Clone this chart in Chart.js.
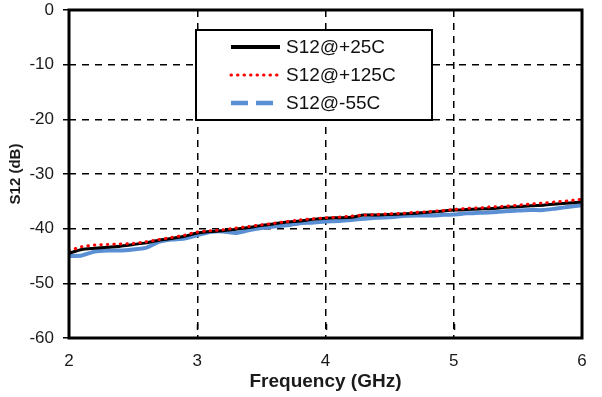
<!DOCTYPE html>
<html>
<head>
<meta charset="utf-8">
<script src="https://cdn.jsdelivr.net/npm/chart.js@4.4.1/dist/chart.umd.min.js"></script>
<style>
  html, body { margin: 0; padding: 0; background: #fff; }
  #wrap { width: 602px; height: 397px; }
</style>
</head>
<body>
<div id="wrap"><canvas id="graph"></canvas></div>
<script>
const freq = [2.0, 2.1, 2.2, 2.3, 2.4, 2.5, 2.6, 2.7, 2.8, 2.9,
  3.0, 3.1, 3.2, 3.3, 3.4, 3.5, 3.6, 3.7, 3.8, 3.9,
  4.0, 4.1, 4.2, 4.3, 4.4, 4.5, 4.6, 4.7, 4.8, 4.9,
  5.0, 5.1, 5.2, 5.3, 5.4, 5.5, 5.6, 5.7, 5.8, 5.9, 6.0];

const s12_25 = [-44.5, -43.8, -43.6, -43.4, -43.2, -42.9, -42.6, -42.1, -41.8, -41.4,
  -40.8, -40.5, -40.4, -40.1, -39.8, -39.4, -39.1, -38.8, -38.6, -38.3,
  -38.1, -38.0, -37.9, -37.5, -37.5, -37.4, -37.3, -37.2, -37.0, -36.8,
  -36.6, -36.5, -36.4, -36.3, -36.1, -36.0, -35.8, -35.7, -35.5, -35.3, -35.1];

const s12_125 = [-44.0, -43.3, -43.0, -42.9, -42.8, -42.7, -42.4, -42.0, -41.6, -41.2,
  -40.6, -40.4, -40.2, -39.9, -39.6, -39.3, -39.0, -38.7, -38.4, -38.2,
  -38.0, -37.9, -37.7, -37.5, -37.4, -37.3, -37.2, -37.0, -36.9, -36.7,
  -36.5, -36.3, -36.2, -36.0, -35.9, -35.7, -35.5, -35.3, -35.1, -34.9, -34.6];

const s12_m55 = [-45.0, -44.9, -44.2, -44.0, -44.0, -43.8, -43.5, -42.4, -42.0, -41.8,
  -41.2, -40.6, -40.5, -40.8, -40.3, -39.9, -39.6, -39.4, -39.0, -38.9,
  -38.7, -38.6, -38.4, -38.2, -38.0, -37.9, -37.7, -37.6, -37.6, -37.5,
  -37.4, -37.2, -37.1, -37.0, -36.8, -36.7, -36.6, -36.6, -36.3, -36.0, -35.7];

const labels = ["S12@+25C", "S12@+125C", "S12@-55C"];
const xTicks = [2, 3, 4, 5, 6];
const yTicks = [0, -10, -20, -30, -40, -50, -60];

const FONT = "'Liberation Sans', Arial, sans-serif";

function pts(ys) {
  return freq.map((f, i) => ({ x: f, y: ys[i] }));
}

// frame, inner x ticks and legend box
const extras = {
  id: "extras",
  afterDraw(chart) {
    const ctx = chart.ctx;
    const a = chart.chartArea;
    const xs = chart.scales.x;
    ctx.save();
    ctx.strokeStyle = "#000";
    ctx.setLineDash([]);
    ctx.lineWidth = 1.5;
    [3, 4, 5].forEach(v => {
      const px = Math.round(xs.getPixelForValue(v)) + 0.5;
      ctx.beginPath();
      ctx.moveTo(px, a.bottom - 14);
      ctx.lineTo(px, a.bottom - 8);
      ctx.stroke();
    });
    ctx.lineWidth = 3;
    ctx.strokeRect(a.left, a.top, a.right - a.left, a.bottom - a.top);

    // legend
    const bx = 196, by = 30, bw = 236, bh = 90;
    ctx.fillStyle = "#fff";
    ctx.fillRect(bx, by, bw, bh);
    ctx.lineWidth = 2;
    ctx.strokeRect(bx, by, bw, bh);
    ctx.font = "19px " + FONT;
    ctx.textBaseline = "middle";
    chart.data.datasets.forEach((ds, i) => {
      const yy = 47 + i * 28;
      ctx.strokeStyle = ds.borderColor;
      ctx.lineWidth = ds.legendWidth;
      ctx.lineCap = ds.borderCapStyle || "butt";
      ctx.setLineDash(ds.legendDash);
      ctx.beginPath();
      ctx.moveTo(231, yy);
      ctx.lineTo(280, yy);
      ctx.stroke();
      ctx.setLineDash([]);
      ctx.fillStyle = "#111";
      ctx.fillText(ds.label, 286, yy + 1);
    });
    ctx.restore();
  }
};

new Chart(document.getElementById("graph"), {
  type: "line",
  data: {
    datasets: [
      {
        label: labels[0],
        data: pts(s12_25),
        borderColor: "#000000",
        borderWidth: 3,
        legendWidth: 4,
        legendDash: [],
        order: 1
      },
      {
        label: labels[1],
        data: pts(s12_125),
        borderColor: "#ff0000",
        borderWidth: 3,
        borderDash: [0.5, 6],
        borderCapStyle: "round",
        legendWidth: 3,
        legendDash: [0.5, 6],
        order: 0
      },
      {
        label: labels[2],
        data: pts(s12_m55),
        borderColor: "#5a8fd4",
        borderWidth: 4,
        legendWidth: 4.5,
        legendDash: [17, 8],
        order: 2
      }
    ]
  },
  options: {
    responsive: true,
    maintainAspectRatio: false,
    animation: false,
    events: [],
    elements: { point: { radius: 0 }, line: { tension: 0.2 } },
    layout: { padding: { top: 10, right: 20, left: 0, bottom: 0 } },
    plugins: {
      legend: { display: false },
      tooltip: { enabled: false }
    },
    scales: {
      x: {
        type: "linear",
        min: 2,
        max: 6,
        afterBuildTicks(scale) { scale.ticks = xTicks.map(v => ({ value: v })); },
        afterFit(scale) {
          scale.height = 59;
          scale.paddingLeft = 0;
          scale.paddingRight = 0;
        },
        grid: {
          color: ctx => (ctx.tick && (ctx.tick.value === 2 || ctx.tick.value === 6)) ? "rgba(0,0,0,0)" : "#000",
          lineWidth: 1.5,
          drawTicks: false
        },
        border: { display: false, dash: [7, 6] },
        ticks: {
          padding: 13,
          color: "#1a1a1a",
          font: { family: FONT, size: 17 }
        },
        title: {
          display: true,
          text: "Frequency (GHz)",
          color: "#1a1a1a",
          font: { family: FONT, size: 19, weight: "bold" },
          padding: { top: 0, bottom: 4 }
        }
      },
      y: {
        min: -60,
        max: 0,
        afterBuildTicks(scale) { scale.ticks = yTicks.map(v => ({ value: v })); },
        afterFit(scale) {
          scale.width = 69;
          scale.paddingTop = 0;
          scale.paddingBottom = 0;
        },
        grid: {
          color: ctx => (ctx.tick && (ctx.tick.value === 0 || ctx.tick.value === -60)) ? "rgba(0,0,0,0)" : "#000",
          lineWidth: 1.5,
          drawTicks: true,
          tickLength: 6,
          tickColor: "#000",
          tickWidth: 1.5
        },
        border: { display: false, dash: [7, 6] },
        ticks: {
          padding: 9,
          color: "#1a1a1a",
          font: { family: FONT, size: 17 }
        },
        title: {
          display: true,
          text: "S12 (dB)",
          color: "#1a1a1a",
          font: { family: FONT, size: 15, weight: "bold" },
          padding: { top: 7, bottom: 0 }
        }
      }
    }
  },
  plugins: [extras]
});
</script>
</body>
</html>
